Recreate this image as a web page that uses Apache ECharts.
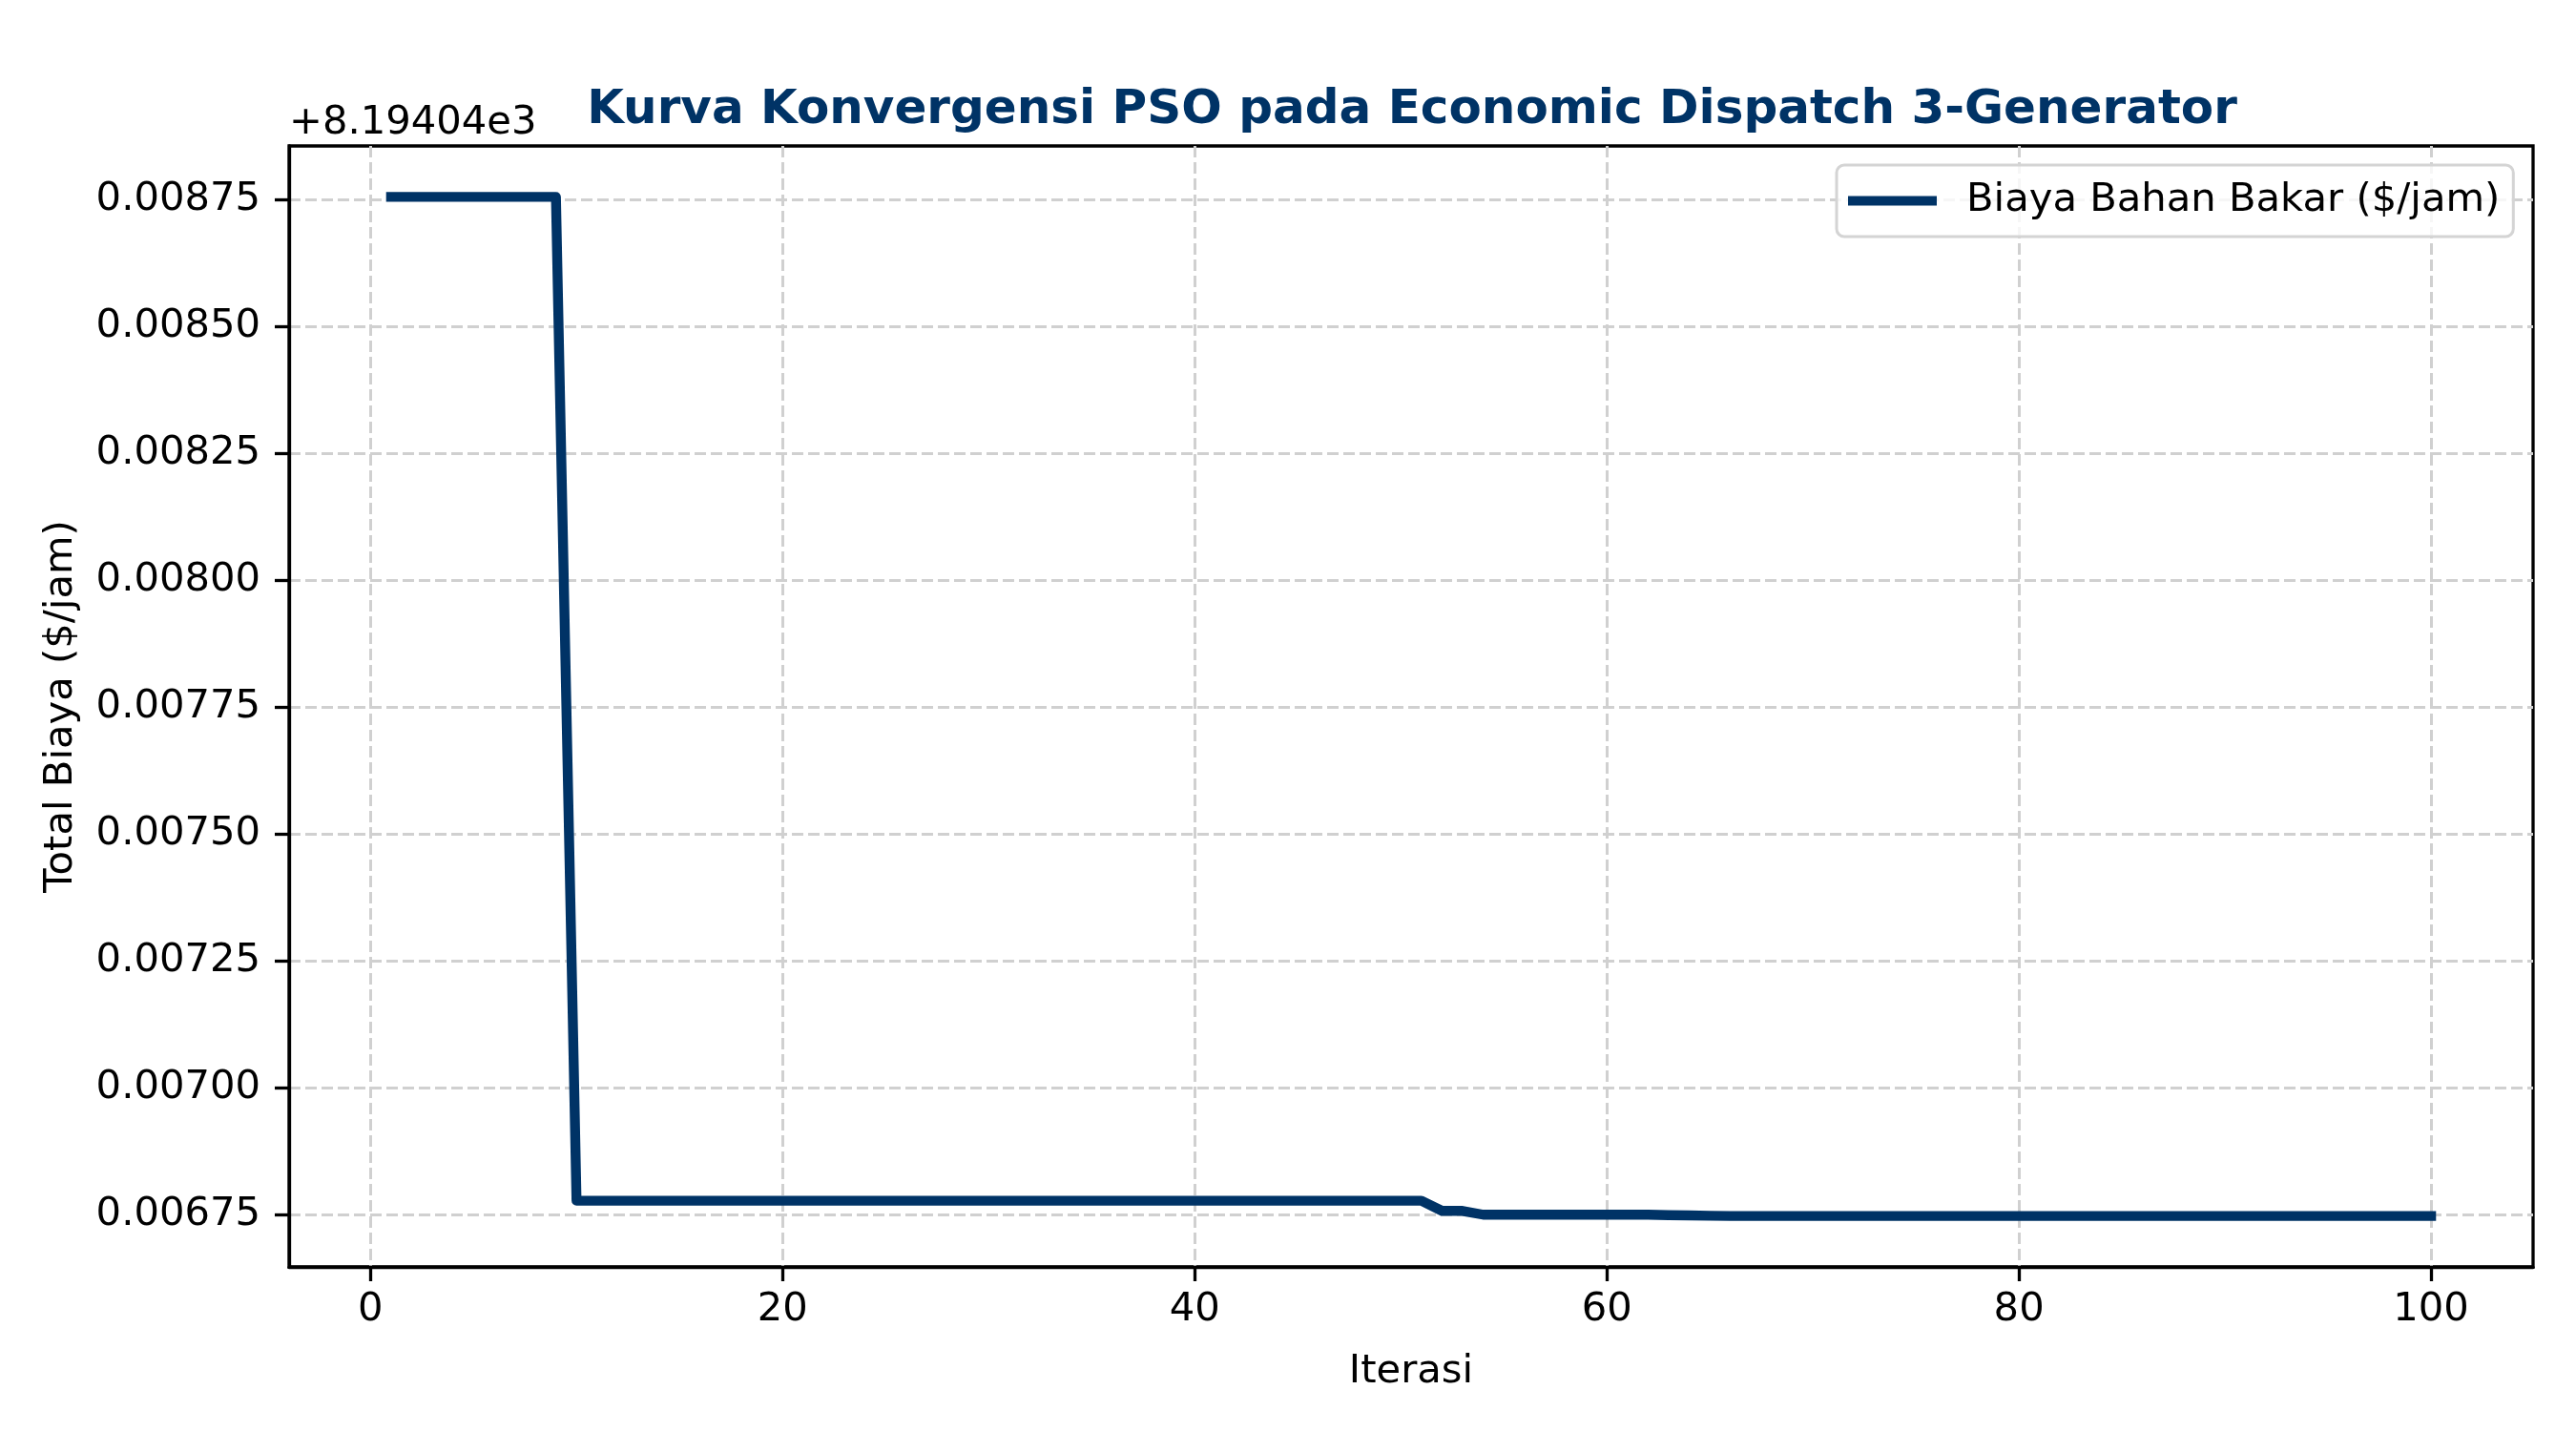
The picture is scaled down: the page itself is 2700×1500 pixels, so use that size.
<!DOCTYPE html>
<html lang="id">
  <head>
    <meta charset="UTF-8" />
    <title>Kurva Konvergensi PSO</title>
    <script src="https://cdn.jsdelivr.net/npm/echarts@6.0.0/dist/echarts.min.js"></script>
    <style>
      html, body { margin: 0; padding: 0; background: #fff; }
    </style>
  </head>
  <body>
    <div id="chart" style="width: 2700px; height: 1500px"></div>
  </body>
  <script>
    // nilai dasar yang ditampilkan matplotlib sebagai offset sumbu y
    const BASE = 8194.04;

    // total biaya per iterasi (iterasi 1..100)
    const biaya = [
      8194.048755, 8194.048755, 8194.048755, 8194.048755, 8194.048755,
      8194.048755, 8194.048755, 8194.048755, 8194.048755, 8194.046777,
      8194.046777, 8194.046777, 8194.046777, 8194.046777, 8194.046777,
      8194.046777, 8194.046777, 8194.046777, 8194.046777, 8194.046777,
      8194.046777, 8194.046777, 8194.046777, 8194.046777, 8194.046777,
      8194.046777, 8194.046777, 8194.046777, 8194.046777, 8194.046777,
      8194.046777, 8194.046777, 8194.046777, 8194.046777, 8194.046777,
      8194.046777, 8194.046777, 8194.046777, 8194.046777, 8194.046777,
      8194.046777, 8194.046777, 8194.046777, 8194.046777, 8194.046777,
      8194.046777, 8194.046777, 8194.046777, 8194.046777, 8194.046777,
      8194.046777, 8194.046757, 8194.046757, 8194.0467495, 8194.0467495,
      8194.0467495, 8194.0467495, 8194.0467495, 8194.0467495, 8194.0467495,
      8194.0467495, 8194.0467495, 8194.0467485, 8194.0467480, 8194.0467475,
      8194.046747, 8194.046747, 8194.046747, 8194.046747, 8194.046747,
      8194.046747, 8194.046747, 8194.046747, 8194.046747, 8194.046747,
      8194.046747, 8194.046747, 8194.046747, 8194.046747, 8194.046747,
      8194.046747, 8194.046747, 8194.046747, 8194.046747, 8194.046747,
      8194.046747, 8194.046747, 8194.046747, 8194.046747, 8194.046747,
      8194.046747, 8194.046747, 8194.046747, 8194.046747, 8194.046747,
      8194.046747, 8194.046747, 8194.046747, 8194.046747, 8194.046747,
    ];

    // tick sumbu
    const xTicks = [0, 20, 40, 60, 80, 100];
    const yTicks = [0.00675, 0.007, 0.00725, 0.0075, 0.00775, 0.008, 0.00825, 0.0085, 0.00875];

    const titleText = "Kurva Konvergensi PSO pada Economic Dispatch 3-Generator";
    const seriesName = "Biaya Bahan Bakar ($/jam)";
    const offsetText = "+8.19404e3";

    const navy = "#003366";
    const font = "DejaVu Sans";

    // data [iterasi, biaya]
    const lineData = biaya.map((v, i) => [i + 1, v]);

    // batas sumbu gaya matplotlib (margin 5%)
    const xFirst = 1, xLast = biaya.length;
    const xPad = (xLast - xFirst) * 0.05;
    const yMinData = Math.min.apply(null, biaya);
    const yMaxData = Math.max.apply(null, biaya);
    const yPad = (yMaxData - yMinData) * 0.05;

    const gridLine = {
      show: true,
      lineStyle: { color: "#d0d0d0", width: 3, type: [12, 5] },
    };

    let chart = echarts.init(document.getElementById("chart"), null, { renderer: "canvas" });
    chart.setOption({
      backgroundColor: "#fff",
      animation: false,
      textStyle: { fontFamily: font },
      title: {
        text: titleText,
        left: 1475,
        textAlign: "center",
        top: 86,
        textStyle: { fontFamily: font, fontSize: 50, fontWeight: "bold", color: navy },
      },
      legend: {
        data: [seriesName],
        left: 1925,
        top: 173,
        padding: [13, 14, 13, 12],
        backgroundColor: "rgba(255,255,255,0.8)",
        borderColor: "#d4d4d4",
        borderWidth: 3,
        borderRadius: 8,
        itemWidth: 93,
        itemHeight: 10,
        icon: "rect",
        textStyle: {
          fontFamily: font,
          fontSize: 41.7,
          color: "#000",
          padding: [0, 0, 0, 26],
          lineHeight: 49,
        },
      },
      grid: {
        left: 303,
        right: 45,
        top: 153,
        bottom: 172,
        show: true,
        borderColor: "#000",
        borderWidth: 3.3,
        backgroundColor: "transparent",
        outerBoundsMode: "none",
        containLabel: false,
      },
      xAxis: {
        type: "value",
        min: xFirst - xPad,
        max: xLast + xPad,
        name: "Iterasi",
        nameLocation: "middle",
        nameGap: 89,
        nameTextStyle: { fontFamily: font, fontSize: 41.7, color: "#000", verticalAlign: "top" },
        axisLine: { show: true, onZero: false, lineStyle: { color: "#000", width: 3.3 } },
        axisTick: { show: true, length: 15, lineStyle: { color: "#000", width: 3.3 }, customValues: xTicks },
        axisLabel: { fontFamily: font, fontSize: 41.7, color: "#000", margin: 24, customValues: xTicks },
        splitLine: gridLine,
      },
      yAxis: {
        type: "value",
        min: yMinData - yPad,
        max: yMaxData + yPad,
        name: "Total Biaya ($/jam)",
        nameLocation: "middle",
        nameGap: 218,
        nameRotate: 90,
        nameTextStyle: { fontFamily: font, fontSize: 41.7, color: "#000" },
        axisLine: { show: true, onZero: false, lineStyle: { color: "#000", width: 3.3 } },
        axisTick: {
          show: true,
          length: 15,
          lineStyle: { color: "#000", width: 3.3 },
          customValues: yTicks.map((t) => BASE + t),
        },
        axisLabel: {
          fontFamily: font,
          fontSize: 41.7,
          color: "#000",
          margin: 30,
          customValues: yTicks.map((t) => BASE + t),
          formatter: (v) => (v - BASE).toFixed(5),
        },
        splitLine: gridLine,
      },
      graphic: [
        {
          type: "text",
          left: 303,
          top: 108,
          style: { text: offsetText, font: "41.7px DejaVu Sans", fill: "#000" },
        },
      ],
      series: [
        {
          name: seriesName,
          type: "line",
          data: lineData,
          showSymbol: false,
          symbol: "none",
          color: navy,
          lineStyle: { color: navy, width: 10.4, cap: "square", join: "round" },
        },
      ],
    });
  </script>
</html>
